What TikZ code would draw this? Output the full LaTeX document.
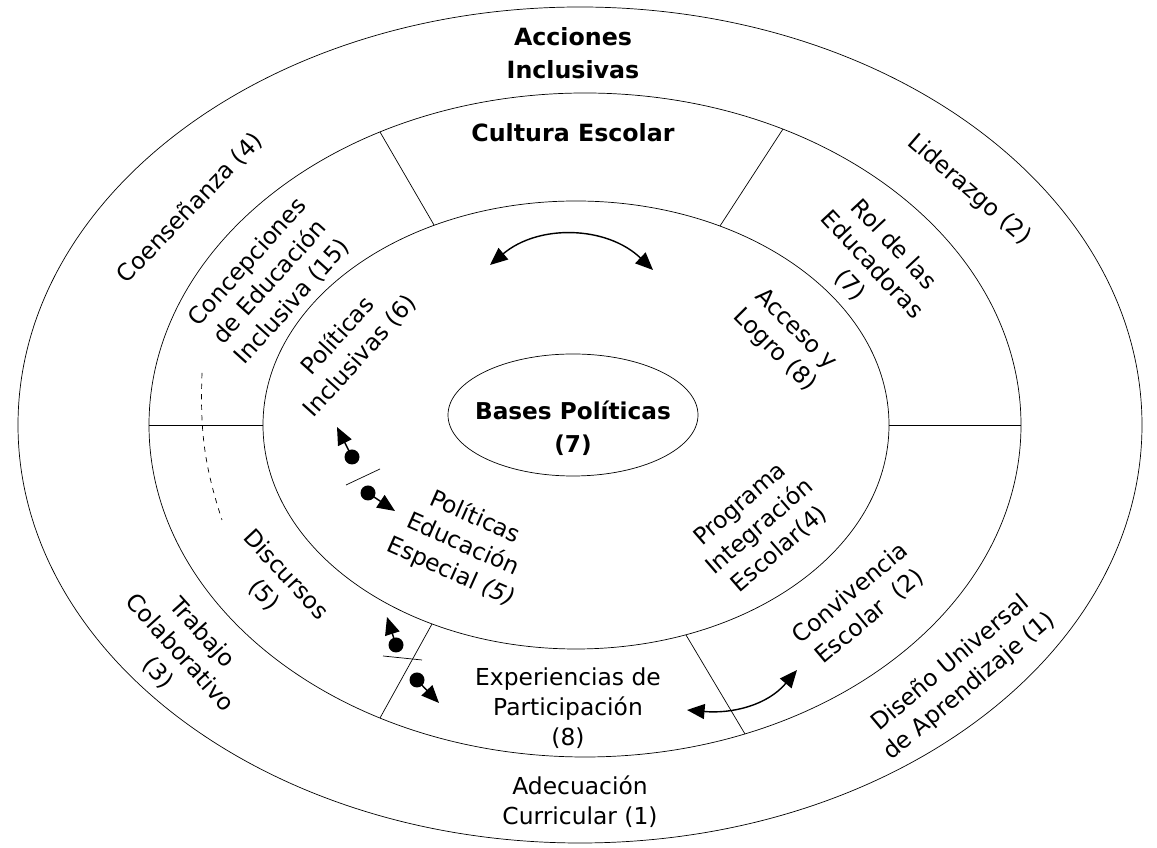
\documentclass[tikz,border=0pt]{standalone}
\usepackage{fontspec}
\setmainfont{DejaVu Sans}
\usetikzlibrary{arrows.meta}

\begin{document}
\begin{tikzpicture}[x=0.02cm, y=0.02cm,
    lbl/.style={font=\fontsize{13.3}{17}\selectfont, align=center, inner sep=0pt},
    ttl/.style={font=\fontsize{13.5}{19}\selectfont\bfseries, align=center, inner sep=0pt},
    tip/.style={-{Triangle[length=10pt,width=8.5pt]}, thick},
    duo/.style={{Triangle[length=10pt,width=8.5pt]}-{Triangle[length=10pt,width=8.5pt]}, thick}]
    \useasboundingbox (0,0) rectangle (1157,848);

    % Draw the rings
    \draw (580,423) ellipse (562 and 418);
    \draw (585,423) ellipse (436 and 332);
    \draw (576,423) ellipse (313 and 224);
    \draw (573,433) ellipse (125 and 61);

    % Draw the dividers of the middle ring
    \draw (434,623) -- (380,716);
    \draw (720,622) -- (783,719);
    \draw (263,423) -- (149,423);
    \draw (889,423) -- (1021,423);
    \draw (432,224) -- (380,130);
    \draw (686,213) -- (745,114);

    % Outer ring
    \node[ttl] (acciones) at (573,795) {Acciones\\Inclusivas};
    \node[lbl, rotate=46] (coens) at (190,640) {Coenseñanza (4)};
    \node[lbl, rotate=-41] (lider) at (969,658) {Liderazgo (2)};
    \node[lbl, rotate=-48] (trabajo) at (180,195) {Trabajo\\Colaborativo\\(3)};
    \node[lbl, rotate=40] (dua) at (960,173) {Diseño Universal\\de Aprendizaje (1)};
    \node[lbl] (adec) at (580,46) {Adecuación\\Curricular (1)};

    % Middle ring
    \node[ttl] (cultura) at (573,715) {Cultura Escolar};
    \node[lbl, rotate=48] (concep) at (270,566) {Concepciones\\de Educación\\Inclusiva (15)};
    \node[lbl, rotate=-47] (rol) at (872,583) {Rol de las\\Educadoras\\(7)};
    \node[lbl, rotate=-47] (discur) at (275,263) {Discursos\\(5)};
    \node[lbl, rotate=40] (conviv) at (860,243) {Convivencia\\Escolar\ \ (2)};
    \node[lbl] (exper) at (568,140) {Experiencias de\\Participación\\(8)};

    % Inner ring
    \node[lbl, rotate=48] (polinc) at (349,502) {Políticas\\Inclusivas (6)};
    \node[lbl, rotate=-45] (acceso) at (785,508) {Acceso y\\Logro (8)};
    \node[lbl, rotate=-24] (polesp) at (463,303) {Políticas\\Educación\\Especial \textit{(5)}};
    \node[lbl, rotate=41] (pie) at (760,321) {Programa\\Integración\\Escolar(4)};
    \node[ttl, font=\fontsize{13.2}{19}\selectfont\bfseries] (bases) at (573,420) {Bases Políticas\\(7)};

    % Curved arrows
    \coordinate (top l) at (490,583);
    \coordinate (top r) at (653,578);
    \draw[duo] (top l) to[bend left=42] (top r);
    \coordinate (bot l) at (687,138);
    \coordinate (bot r) at (797,178);
    \draw[duo] (bot l) to[out=-5, in=230] (bot r);

    % Dot arrows on the left
    \coordinate (dot1) at (352,391); \coordinate (tip1) at (337,421);
    \coordinate (dot2) at (368,355); \coordinate (tip2) at (395,337);
    \coordinate (dot3) at (396,203); \coordinate (tip3) at (387,231);
    \coordinate (dot4) at (417,168); \coordinate (tip4) at (439,145);
    \foreach \i in {1,...,4} {
        \fill (dot\i) circle (7.5);
        \draw[tip] (dot\i) -- (tip\i);
    }
    \draw (346,363) -- (380,379);
    \draw (383,192) -- (422,188);

    % Dashed link
    \coordinate (dash s) at (202,475);
    \coordinate (dash e) at (222,328);
    \draw[dashed] (dash s) to[out=-92, in=108] (dash e);
\end{tikzpicture}
\end{document}
